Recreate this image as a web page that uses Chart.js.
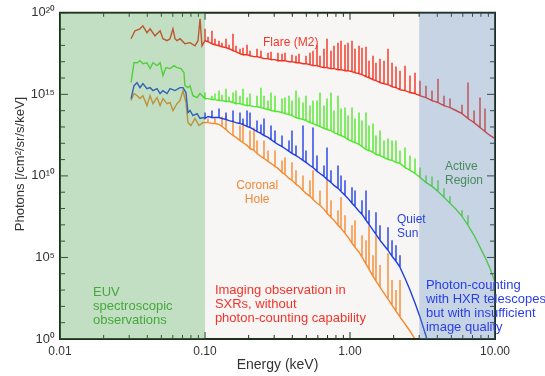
<!DOCTYPE html>
<html><head><meta charset="utf-8">
<script src="https://cdn.jsdelivr.net/npm/chart.js@4/dist/chart.umd.min.js"></script>
<style>html,body{margin:0;padding:0;background:#fff;}canvas{display:block;}</style>
</head><body>
<canvas id="c" width="545" height="376"></canvas>
<script>
// ================= DATA =================
// Fluxes are given as log10(photons /cm2/sr/s/keV); energies in keV.

// --- EUV part (0.03-0.1 keV), jagged spectra ---
const flareEuvE = [0.0309,0.0329,0.0356,0.0373,0.0398,0.0418,0.0452,0.0490,0.0513,0.0547,0.0574,0.0601,0.0621,0.0641,0.0673,0.0727,0.0788,0.0853,0.0895,0.0924,0.0953];
const flareEuvLog = [18.41,18.90,19.02,19.20,18.78,19.02,18.59,18.90,18.41,18.29,18.41,19.02,18.41,18.29,18.41,18.10,18.17,17.98,18.29,19.63,17.98];
const arEuvE = [0.0309,0.0324,0.0340,0.0356,0.0373,0.0398,0.0418,0.0438,0.0467,0.0490,0.0513,0.0538,0.0574,0.0611,0.0641,0.0683,0.0716,0.0727,0.0763,0.0788,0.0826,0.0881,0.0924];
const arEuvLog = [15.72,16.94,16.94,17.06,16.88,16.94,16.58,16.94,16.76,16.94,16.15,16.64,16.58,16.76,16.64,16.58,16.33,15.53,15.41,15.53,14.92,14.80,15.05];
const qsEuvE = [0.0309,0.0324,0.0340,0.0356,0.0373,0.0398,0.0418,0.0438,0.0467,0.0490,0.0513,0.0547,0.0574,0.0621,0.0673,0.0705,0.0739,0.0763,0.0788,0.0826,0.0881,0.0924,0.0969];
const qsEuvLog = [14.74,15.53,15.72,15.41,15.66,15.35,15.41,15.23,15.35,15.05,15.23,15.05,15.35,15.23,15.41,15.41,15.11,13.88,14.01,13.70,13.82,13.52,13.58];
const chEuvE = [0.0309,0.0324,0.0340,0.0356,0.0373,0.0398,0.0418,0.0438,0.0467,0.0490,0.0513,0.0547,0.0574,0.0601,0.0641,0.0673,0.0705,0.0739,0.0763,0.0800,0.0853,0.0909,0.0969];
const chEuvLog = [14.62,15.05,14.92,14.74,14.92,14.31,14.92,14.43,14.80,14.31,14.74,14.43,14.50,14.01,14.43,14.62,15.23,14.50,13.27,13.09,13.52,13.09,13.27];

// --- X-ray part (0.1-10 keV): shared energy grid of spectral-line positions ---
const xrayE = [0.1000,0.1049,0.1117,0.1172,0.1249,0.1310,0.1396,0.1465,0.1560,0.1636,
0.1743,0.1828,0.1949,0.2043,0.2177,0.2284,0.2432,0.2552,0.2719,0.2852,
0.3039,0.3187,0.3397,0.3562,0.3796,0.3980,0.4242,0.4449,0.4741,0.4972,
0.5298,0.5557,0.5921,0.6210,0.6617,0.6940,0.7394,0.7756,0.8265,0.8669,
0.9237,0.9688,1.0323,1.0826,1.1536,1.2098,1.2893,1.3523,1.4410,1.5108,
1.610,1.7156,1.8287,1.9490,2.0757,2.212,2.395,2.593,2.807,3.039,
3.343,3.677,4.044,4.449,4.894,5.383,5.921,6.513,7.172,7.880,
8.532,9.237,10.0];

// continuum level and line peak (null = no line) on that grid
const flareContLog = [18.29,18.23,18.10,18.04,17.98,17.92,17.86,17.80,17.68,17.61,
17.49,17.43,17.43,17.37,17.31,17.31,17.25,17.19,17.19,17.13,
17.13,17.06,17.06,17.06,17.00,17.00,16.94,16.94,16.88,16.88,
16.82,16.76,16.76,16.70,16.64,16.64,16.58,16.58,16.51,16.51,
16.45,16.45,16.39,16.33,16.27,16.21,16.09,16.02,15.90,15.84,
15.72,15.66,15.60,15.47,15.41,15.29,15.23,15.11,15.05,14.92,
14.80,14.62,14.50,14.31,14.19,14.01,13.82,13.52,13.27,12.97,
12.72,12.48,12.29];
const flarePeakLog = [19.02,18.53,18.90,18.41,18.29,18.17,18.41,18.04,18.72,17.98,
17.80,17.86,18.04,17.68,null,17.80,17.68,null,17.55,17.61,
null,17.55,17.49,17.55,null,17.43,17.37,17.49,null,17.37,
17.55,17.68,18.04,17.37,17.80,18.41,17.68,17.98,18.17,18.29,
18.04,18.17,18.29,17.80,17.98,17.86,17.92,17.06,17.37,16.94,
17.19,17.06,17.80,16.94,16.70,16.45,16.76,16.15,16.33,15.84,
15.53,15.23,15.96,14.92,14.74,null,14.37,15.72,14.01,14.80,
14.13,null,null];

const arContLog = [14.74,14.74,14.68,14.68,14.62,14.62,14.56,14.56,14.50,14.43,
14.43,14.37,14.31,14.31,14.25,14.25,14.19,14.13,14.07,14.01,
13.95,13.95,13.88,13.82,13.76,13.70,13.58,13.52,13.46,13.39,
13.27,13.21,13.09,13.03,12.91,12.84,12.78,12.66,12.54,12.48,
12.36,12.23,12.11,12.05,11.93,11.80,11.62,11.56,11.44,11.32,
11.25,11.13,11.01,10.95,10.83,10.77,10.52,10.34,10.15,9.91,
9.60,9.36,9.05,8.69,8.32,7.95,7.52,6.97,6.36,5.63,
5.02,4.34,3.49];
const arPeakLog = [15.11,null,14.92,15.05,15.23,14.98,15.35,14.86,15.11,15.23,
14.92,15.35,14.80,15.05,null,14.92,15.41,14.92,14.62,15.11,
14.92,null,14.74,14.80,14.92,14.62,15.23,14.80,14.50,14.92,
14.31,14.62,14.62,15.11,14.31,14.74,15.11,14.01,14.92,14.13,
14.19,13.70,14.19,13.52,13.88,13.39,13.88,13.09,13.21,12.48,
12.78,12.17,12.29,12.17,12.17,11.56,11.74,11.25,11.07,10.52,
10.03,9.97,9.73,9.24,8.75,null,7.89,7.58,null,null,
null,null,null];

const qsContLog = [13.52,13.64,13.58,13.58,13.58,13.52,13.46,13.39,13.33,13.27,
13.21,13.15,13.03,12.97,12.84,12.72,12.60,12.48,12.36,12.23,
12.05,11.93,11.80,11.68,11.50,11.38,11.25,11.13,10.95,10.83,
10.64,10.52,10.28,10.15,9.97,9.79,9.60,9.42,9.24,9.05,
8.81,8.62,8.32,8.13,7.83,7.65,7.28,7.03,6.67,6.42,
6.06,5.75,5.44,5.08,4.77,4.40,3.73,3.00,2.20,1.35,
0.18,-1.10];
const qsPeakLog = [13.88,null,14.01,null,14.13,null,13.88,null,14.01,null,
13.88,13.52,14.01,13.88,null,13.39,13.15,13.52,null,13.09,
12.78,null,12.48,null,12.17,12.78,11.87,null,13.09,11.56,
null,12.97,11.25,null,10.64,11.74,10.34,null,10.64,10.03,
9.73,null,9.30,9.11,null,8.50,9.11,7.89,null,7.77,
6.97,null,6.85,6.06,5.75,5.14,null,null,null,null,
null,null];

const chContLog = [13.27,13.27,13.21,13.21,13.15,13.03,12.84,12.66,12.48,12.36,
12.17,12.05,11.87,11.68,11.56,11.38,11.19,11.07,10.89,10.77,
10.58,10.46,10.21,10.09,9.85,9.73,9.48,9.36,9.11,8.93,
8.75,8.56,8.32,8.20,7.95,7.71,7.46,7.28,6.97,6.79,
6.48,6.24,5.87,5.63,5.32,5.02,4.59,4.28,3.85,3.55,
3.18,2.81,2.45,2.08,1.71,1.35,0.92,0.49,0.00,-1.10];
const chPeakLog = [null,13.52,null,13.52,null,13.64,13.70,null,13.39,null,
13.09,13.27,null,12.78,12.97,12.17,null,12.17,11.56,null,
11.56,null,10.95,11.13,null,10.83,10.34,null,10.03,null,
9.73,10.34,null,9.11,null,9.73,8.50,null,7.89,8.69,
7.58,null,6.97,7.28,null,6.36,6.06,6.97,5.14,6.36,
4.53,null,5.26,3.61,3.00,3.61,null,null,null,null];

// band edges (keV): EUV spectroscopy | SXR imaging | HXR photon counting
const bandEdges = [0.01, 0.1, 3, 10];

// axes
const xMin = 0.01, xMax = 10, yMin = 1, yMax = 1e20;
const xTickValues = [0.01, 0.1, 1, 10];
const xTickLabels = ['0.01', '0.10', '1.00', '10.00'];
const yTickValues = [1, 1e5, 1e10, 1e15, 1e20];
const yTickLabels = ['10\u2070', '10\u2075', '10\u00b9\u2070', '10\u00b9\u2075', '10\u00b2\u2070'];
const xMinorTicks = [0.02,0.03,0.04,0.05,0.06,0.07,0.08,0.09,0.2,0.3,0.4,0.5,0.6,0.7,0.8,0.9,2,3,4,5,6,7,8,9];
const yMinorTicks = [1e1,1e2,1e3,1e4,1e6,1e7,1e8,1e9,1e11,1e12,1e13,1e14,1e16,1e17,1e18,1e19];

// ================= STYLE =================
const FONT = "'Liberation Sans', Arial, sans-serif";
const AXIS = '#1f2e1f';
// tick-mark lengths expressed as multiplicative steps along the log axes
const X_MAJOR = 1.135, X_MINOR = 1.083;   // along energy axis (for y ticks)
const Y_MAJOR = 2.68, Y_MINOR = 1.76;     // along photon axis (for x ticks)
const annotations = [
  {lines:['Flare (M2)'], e:0.39, f:1.5e18, color:'#f2392b', align:'center', size:12},
  {lines:['Coronal','Hole'], e:0.229, f:2.6e9, color:'#f2893a', align:'center', size:12},
  {lines:['Quiet','Sun'], e:2.11, f:2.2e7, color:'#2b45e0', align:'left', size:12},
  {lines:['Active','Region'], e:4.52, f:3.8e10, color:'#4b8a5e', align:'left', size:12},
  {lines:['EUV','spectroscopic','observations'], e:0.0169, f:750, color:'#45a83c', align:'left', size:13},
  {lines:['Imaging observation in','SXRs, without','photon-counting capability'], e:0.117, f:1000, color:'#f2352b', align:'left', size:13},
  {lines:['Photon-counting','with HXR telescopes','but with insufficient','image quality'], e:3.34, f:2000, color:'#2a3ee8', align:'left', size:13}
];

function buildSeries(euvE, euvLog, contLog, peakLog) {
  const pts = euvE.map((e, i) => ({x: e, y: Math.pow(10, euvLog[i])}));
  contLog.forEach((c, i) => {
    const e = xrayE[i];
    pts.push({x: e, y: Math.pow(10, c)});
    if (peakLog[i] !== null && peakLog[i] !== undefined) {
      pts.push({x: e, y: Math.pow(10, peakLog[i])});
      pts.push({x: e, y: Math.pow(10, c)});
    }
  });
  return pts;
}

// axis frame and inward tick marks, drawn as line datasets through the scales
const framePts = [{x:xMin,y:yMin},{x:xMax,y:yMin},{x:xMax,y:yMax},{x:xMin,y:yMax},{x:xMin,y:yMin}];
function tickPts() {
  const p = [];
  const gap = v => p.push({x: v.x, y: null});
  const addY = (v, f) => {
    p.push({x: xMin, y: v}, {x: xMin * f, y: v}); gap({x: xMin});
    p.push({x: xMax / f, y: v}, {x: xMax, y: v}); gap({x: xMax});
  };
  const addX = (v, f) => {
    p.push({x: v, y: yMin}, {x: v, y: yMin * f}); gap({x: v});
    p.push({x: v, y: yMax / f}, {x: v, y: yMax}); gap({x: v});
  };
  yTickValues.forEach(v => addY(v, X_MAJOR));
  yMinorTicks.forEach(v => addY(v, X_MINOR));
  xTickValues.forEach(v => addX(v, Y_MAJOR));
  xMinorTicks.forEach(v => addX(v, Y_MINOR));
  return p;
}

const decor = {
  id: 'decor',
  beforeDraw(chart) {
    const ctx = chart.ctx;
    ctx.save(); ctx.fillStyle = '#ffffff'; ctx.fillRect(0, 0, chart.width, chart.height); ctx.restore();
  },
  beforeDatasetsDraw(chart) {
    const {ctx, chartArea: a, scales: {x}} = chart;
    ctx.save();
    const x1 = x.getPixelForValue(bandEdges[1]), x2 = x.getPixelForValue(bandEdges[2]);
    ctx.fillStyle = '#f7f6f4';
    ctx.fillRect(x1, a.top, x2 - x1, a.bottom - a.top);
    ctx.restore();
  },
  afterDatasetsDraw(chart) {
    const {ctx, chartArea: a, scales: {x, y}} = chart;
    ctx.save();
    const g0 = x.getPixelForValue(bandEdges[0]), g1 = x.getPixelForValue(bandEdges[1]);
    ctx.fillStyle = 'rgba(84,164,84,0.35)';
    ctx.fillRect(g0, a.top, g1 - g0, a.bottom - a.top);
    const b0 = x.getPixelForValue(bandEdges[2]), b1 = x.getPixelForValue(bandEdges[3]);
    ctx.fillStyle = 'rgba(92,132,178,0.35)';
    ctx.fillRect(b0, a.top, b1 - b0, a.bottom - a.top);
    ctx.textBaseline = 'middle';
    annotations.forEach(an => {
      const px = x.getPixelForValue(an.e), py = y.getPixelForValue(an.f);
      ctx.fillStyle = an.color;
      ctx.font = an.size + 'px ' + FONT;
      ctx.textAlign = an.align;
      an.lines.forEach((t, i) => ctx.fillText(t, px, py + i * 14));
    });
    ctx.restore();
  },
  afterDraw(chart) {
    const ctx = chart.ctx;
    ctx.save();
    ctx.fillStyle = '#333333';
    ctx.font = '13px ' + FONT;
    ctx.textAlign = 'center';
    ctx.textBaseline = 'middle';
    ctx.translate(20, 164);
    ctx.rotate(-Math.PI / 2);
    ctx.fillText('Photons [/cm\u00b2/sr/s/keV]', 0, 0);
    ctx.restore();
  }
};

const mk = (label, pts, color) => ({
  label, data: pts, borderColor: color, borderWidth: 1.4,
  pointRadius: 0, tension: 0, fill: false, spanGaps: false
});

new Chart(document.getElementById('c'), {
  type: 'line',
  data: {
    datasets: [
      {label: 'axis frame', data: framePts, borderColor: AXIS, borderWidth: 2, pointRadius: 0,
       tension: 0, fill: false, clip: false, borderJoinStyle: 'miter', borderCapStyle: 'square'},
      {label: 'tick marks', data: tickPts(), borderColor: AXIS, borderWidth: 1, pointRadius: 0,
       tension: 0, fill: false, spanGaps: false, clip: false},
      mk('Flare (M2)', buildSeries(flareEuvE, flareEuvLog, flareContLog, flarePeakLog), '#f2301f'),
      mk('Quiet Sun', buildSeries(qsEuvE, qsEuvLog, qsContLog, qsPeakLog), '#1f3fe6'),
      mk('Coronal Hole', buildSeries(chEuvE, chEuvLog, chContLog, chPeakLog), '#f58a30'),
      mk('Active Region', buildSeries(arEuvE, arEuvLog, arContLog, arPeakLog), '#4fe82a')
    ]
  },
  options: {
    responsive: false,
    animation: false,
    devicePixelRatio: 1,
    layout: {padding: {left: 0, right: 50, top: 12, bottom: 0}},
    plugins: {legend: {display: false}, tooltip: {enabled: false}},
    scales: {
      x: {
        type: 'logarithmic', min: xMin, max: xMax,
        grid: {display: false, drawTicks: false},
        border: {display: false},
        afterBuildTicks: s => { s.ticks = xTickValues.map(v => ({value: v})); },
        afterFit: s => { s.height = 37; },
        ticks: {
          autoSkip: false, maxRotation: 0, padding: 5,
          color: '#333333', font: {family: FONT, size: 12},
          callback: (v, i) => xTickLabels[i]
        },
        title: {display: true, text: 'Energy (keV)', color: '#333333',
                font: {family: FONT, size: 14}, padding: {top: 0, bottom: 2}}
      },
      y: {
        type: 'logarithmic', min: yMin, max: yMax,
        grid: {display: false, drawTicks: false},
        border: {display: false},
        afterBuildTicks: s => { s.ticks = yTickValues.map(v => ({value: v})); },
        afterFit: s => { s.width = 60; },
        ticks: {
          autoSkip: false, padding: 5,
          color: '#333333', font: {family: FONT, size: 13},
          callback: (v, i) => yTickLabels[i]
        }
      }
    }
  },
  plugins: [decor]
});
</script>
</body></html>
